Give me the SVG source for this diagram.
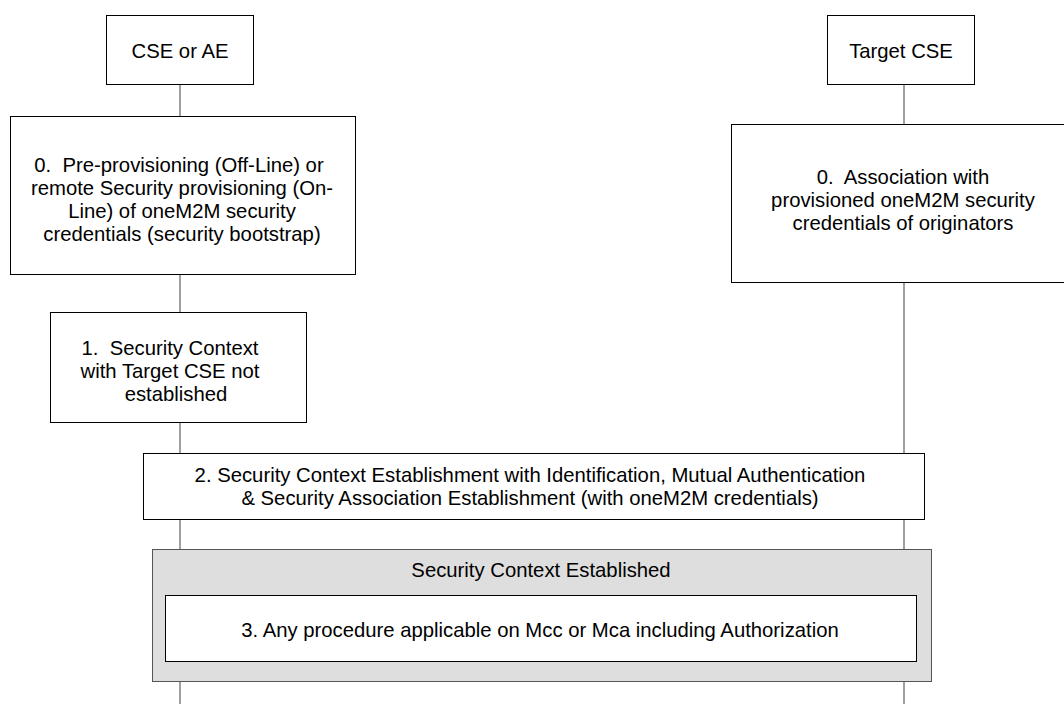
<svg xmlns="http://www.w3.org/2000/svg" width="1064" height="704" viewBox="0 0 1064 704">
<style>
.box{fill:#fff;stroke:#000;stroke-width:1}
.grp{fill:#dedede;stroke:#555;stroke-width:1}
.life{stroke:#808080;stroke-width:1.5;fill:none}
text{font-family:"Liberation Sans",Arial,sans-serif;font-size:20.3px;fill:#000;text-anchor:middle;white-space:pre}
</style>
<rect width="1064" height="704" fill="#fff"/>
<g id="connectors">
<line class="life" x1="180" y1="84" x2="180" y2="704"/>
<line class="life" x1="904" y1="84" x2="904" y2="704"/>
</g>
<g id="cse-ae">
<rect class="box" x="106.5" y="15.5" width="147" height="69"/>
<text x="180" y="58">CSE or AE</text>
</g>
<g id="target-cse">
<rect class="box" x="827.5" y="15.5" width="147" height="69"/>
<text x="901" y="58">Target CSE</text>
</g>
<g id="step0-left">
<rect class="box" x="10.5" y="116.5" width="345" height="158"/>
<text x="179" y="172" xml:space="preserve">0.  Pre-provisioning (Off-Line) or</text>
<text x="182" y="195">remote Security provisioning (On-</text>
<text x="182" y="218">Line) of oneM2M security</text>
<text x="182" y="241">credentials (security bootstrap)</text>
</g>
<g id="step0-right">
<rect class="box" x="731.5" y="124.5" width="340" height="158"/>
<text x="903" y="184" xml:space="preserve">0.  Association with</text>
<text x="903" y="207">provisioned oneM2M security</text>
<text x="903" y="230">credentials of originators</text>
</g>
<g id="step1">
<rect class="box" x="50.5" y="312.5" width="256" height="110"/>
<text x="170" y="355" xml:space="preserve">1.  Security Context</text>
<text x="170" y="378">with Target CSE not</text>
<text x="176" y="401">established</text>
</g>
<g id="step2">
<rect class="box" x="143.5" y="453.5" width="781" height="66"/>
<text x="530" y="482">2. Security Context Establishment with Identification, Mutual Authentication</text>
<text x="530" y="505">&amp; Security Association Establishment (with oneM2M credentials)</text>
</g>
<g id="security-context">
<rect class="grp" x="152.5" y="549.5" width="779" height="132"/>
<text x="541" y="577">Security Context Established</text>
</g>
<g id="step3">
<rect class="box" x="165.5" y="595.5" width="751" height="66"/>
<text x="540" y="637">3. Any procedure applicable on Mcc or Mca including Authorization</text>
</g>
</svg>
